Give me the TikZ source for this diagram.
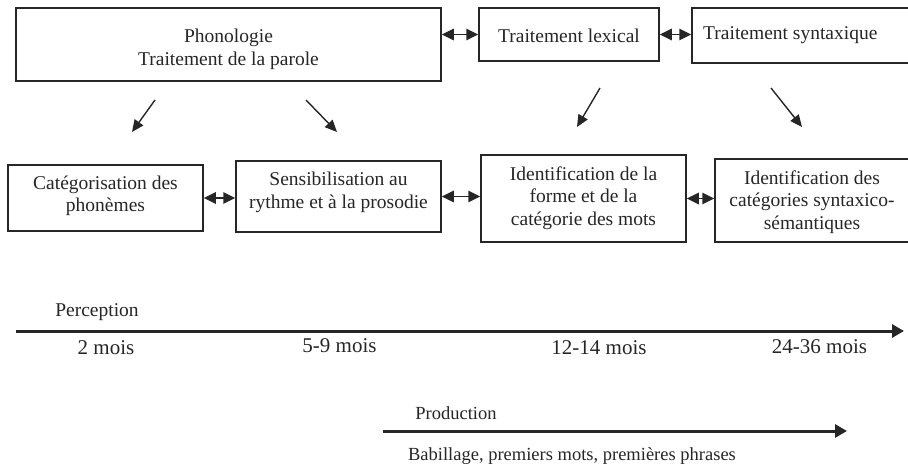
\documentclass[tikz,border=0pt]{standalone}
\usepackage{fontspec}
\setmainfont{Liberation Serif}
\usetikzlibrary{arrows.meta}
\definecolor{ink}{HTML}{262626}
\tikzset{
  box/.style={draw=ink, line width=1.5pt, inner sep=0pt},
  btxt/.style={align=center, inner sep=0pt, text=ink, font=\fontsize{19.5}{22.5}\selectfont},
  dbl/.style={draw=ink, line width=1.5pt, {Triangle[length=12pt,width=11.5pt]}-{Triangle[length=12pt,width=11.5pt]}},
  diag/.style={draw=ink, line width=1.4pt, -{Triangle[length=12pt,width=10.5pt]}},
  axis/.style={draw=ink, line width=3pt, -{Triangle[length=12pt,width=13pt]}},
  lbl/.style={text=ink, inner sep=0pt},
}
\begin{document}
\begin{tikzpicture}[x=1pt,y=-1pt]
\useasboundingbox (0,0) rectangle (908,465);
\begin{scope}
\clip (0,0) rectangle (908,465);
% top row boxes
\node[box, minimum width=425pt, minimum height=73pt] (phon) at (228.5,44.5) {};
\node[box, minimum width=180pt, minimum height=53pt] (lex) at (569,34.5) {};
\node[box, minimum width=220pt, minimum height=55pt] (syn) at (802,35.5) {};
% second row boxes
\node[box, minimum width=195pt, minimum height=66pt] (cat) at (105.5,198) {};
\node[box, minimum width=205pt, minimum height=71pt] (sens) at (338.5,196.5) {};
\node[box, minimum width=205pt, minimum height=87pt] (ident) at (583.5,198.5) {};
\node[box, minimum width=194pt, minimum height=83pt] (cats) at (812,200.5) {};
% box texts
\node[btxt] (phonT) at (228.5,49.5) {Phonologie\\Traitement de la parole};
\node[btxt] (lexT) at (569,35.5) {Traitement lexical};
\node[btxt, anchor=west] (synT) at (703,35.5) {Traitement syntaxique};
\node[btxt] (catT) at (105.5,196) {Catégorisation des\\phonèmes};
\node[btxt] (sensT) at (338.5,192.5) {Sensibilisation au\\rythme et à la prosodie};
\node[btxt] (identT) at (583.5,198) {Identification de la\\forme et de la\\catégorie des mots};
\node[btxt] (catsT) at (812,202) {Identification des\\catégories syntaxico-\\sémantiques};
% double arrows
\draw[dbl] (lex.west -| phon.east) -- (lex.west);
\draw[dbl] (lex.east) -- (lex.east -| syn.west);
\draw[dbl] (cat.east) -- (cat.east -| sens.west);
\draw[dbl] (sens.east) -- (sens.east -| ident.west);
\draw[dbl] (ident.east) -- (ident.east -| cats.west);
% diagonal arrows
\coordinate (a1s) at (155,100); \coordinate (a1e) at (132,132);
\coordinate (a2s) at (306,100); \coordinate (a2e) at (337,132);
\coordinate (a3s) at (600,88);  \coordinate (a3e) at (577,127);
\coordinate (a4s) at (771,88);  \coordinate (a4e) at (802,127);
\draw[diag] (a1s) -- (a1e);
\draw[diag] (a2s) -- (a2e);
\draw[diag] (a3s) -- (a3e);
\draw[diag] (a4s) -- (a4e);
% timeline
\coordinate (t0) at (16,331); \coordinate (t1) at (904,331);
\draw[axis] (t0) -- (t1);
\node[lbl, font=\fontsize{19.5}{22}\selectfont] (perc) at (97,312) {Perception};
\node[lbl, font=\fontsize{21}{24}\selectfont] (m2) at (106,348) {2 mois};
\node[lbl, font=\fontsize{21}{24}\selectfont] (m59) at (339.5,346) {5-9 mois};
\node[lbl, font=\fontsize{21}{24}\selectfont] (m1214) at (599,348) {12-14 mois};
\node[lbl, font=\fontsize{21}{24}\selectfont] (m2436) at (819.5,347) {24-36 mois};
% production
\coordinate (p0) at (383,431); \coordinate (p1) at (847,431);
\draw[axis] (p0) -- (p1);
\node[lbl, font=\fontsize{18.5}{21}\selectfont] (prod) at (456,413) {Production};
\node[lbl, font=\fontsize{18.5}{21}\selectfont] (bab) at (572,456) {Babillage, premiers mots, premières phrases};
\end{scope}
\end{tikzpicture}
\end{document}
